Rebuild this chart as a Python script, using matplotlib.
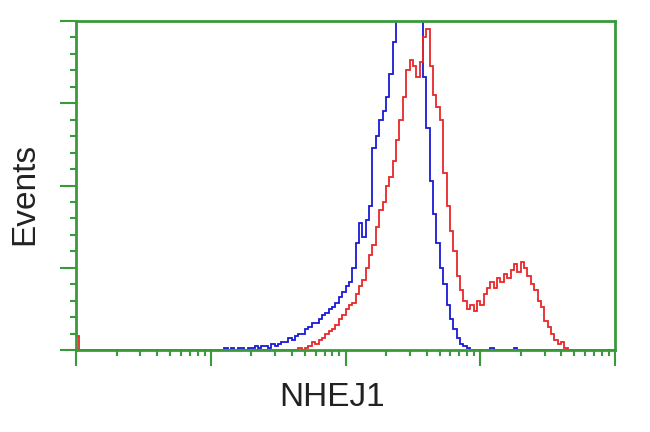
import numpy as np
import matplotlib
matplotlib.use("Agg")
import matplotlib.pyplot as plt
from matplotlib.ticker import LogLocator, MultipleLocator, NullFormatter

# histogram channels: 160 bins over 4 log decades (10^0 .. 10^4)
n_bins = 160
bin_w = 0.025  # decades per bin

# blue (control) counts, starting at bin 44
blue_start = 44
blue_counts = [1, 0, 1, 0, 1, 1, 0, 1, 1, 2, 1, 2, 2, 1, 3, 2,
               3, 4, 4, 6, 5, 7, 8, 8, 10, 11, 13, 13, 15, 17, 18, 20,
               21, 23, 26, 28, 31, 33, 40, 52, 62, 55, 63, 70, 98, 104, 112, 116,
               123, 134, 150, 170, 175, 180, 178, 182, 176, 172, 168, 133, 108, 82,
               66, 52, 40, 32, 22, 15, 10, 6, 3, 2, 1, 0,
               0, 0, 0, 0, 0, 1, 0, 0, 0, 0, 0, 0, 1, 0]

# red (NHEJ1) counts, starting at bin 66, plus a pile-up in the first channel
red_first = 7
red_start = 66
red_counts = [1, 0, 1, 2, 4, 3, 5, 6, 8, 9, 10, 12, 15, 17, 20, 22,
              23, 27, 31, 34, 40, 46, 51, 60, 68, 72, 80, 84, 92, 102, 112, 123,
              136, 141, 138, 133, 140, 152, 156, 138, 124, 118, 112, 86, 70, 58,
              48, 36, 29, 24, 20, 22, 19, 24, 22, 27, 30, 33, 30, 35, 33, 37,
              35, 39, 42, 38, 43, 40, 36, 32, 29, 24, 21, 14, 11, 8, 5, 3, 4, 1, 0]

edges = 10 ** (np.arange(n_bins + 1) * bin_w)

blue = np.zeros(n_bins)
blue[blue_start:blue_start + len(blue_counts)] = blue_counts
red = np.zeros(n_bins)
red[0] = red_first
red[red_start:red_start + len(red_counts)] = red_counts

green = '#3a9a3a'

fig = plt.figure(figsize=(6.5, 4.32), dpi=100)
ax = fig.add_axes([76 / 650, 1 - 350 / 432, (615 - 76) / 650, (350 - 21) / 432])

ax.stairs(blue, edges, color='#1a1ad6', linewidth=1.3)
ax.stairs(red, edges, color='#e82828', linewidth=1.3)

ax.set_xscale('log')
ax.set_xlim(1, 1e4)
ax.set_ylim(0, 160)

ax.xaxis.set_major_locator(LogLocator(base=10, numticks=10))
ax.xaxis.set_minor_locator(LogLocator(base=10, subs=np.arange(2, 10), numticks=20))
ax.xaxis.set_major_formatter(NullFormatter())
ax.xaxis.set_minor_formatter(NullFormatter())
ax.yaxis.set_major_locator(MultipleLocator(40))
ax.yaxis.set_minor_locator(MultipleLocator(8))
ax.yaxis.set_major_formatter(NullFormatter())

for s in ax.spines.values():
    s.set_color(green)
    s.set_linewidth(2.0)

ax.tick_params(which='major', direction='out', length=11.5, width=1.5, color=green,
               top=False, right=False)
ax.tick_params(which='minor', direction='out', length=4.5, width=1.5, color=green,
               top=False, right=False)

fig.text(332 / 650, 1 - 397 / 432, 'NHEJ1', ha='center', va='center',
         fontsize=24, family='Liberation Sans', color='#222222')
fig.text(25 / 650, 1 - 194 / 432, 'Events', ha='center', va='center', rotation=90,
         fontsize=24, family='Liberation Sans', color='#222222')

fig.savefig('out.png', dpi=100)
